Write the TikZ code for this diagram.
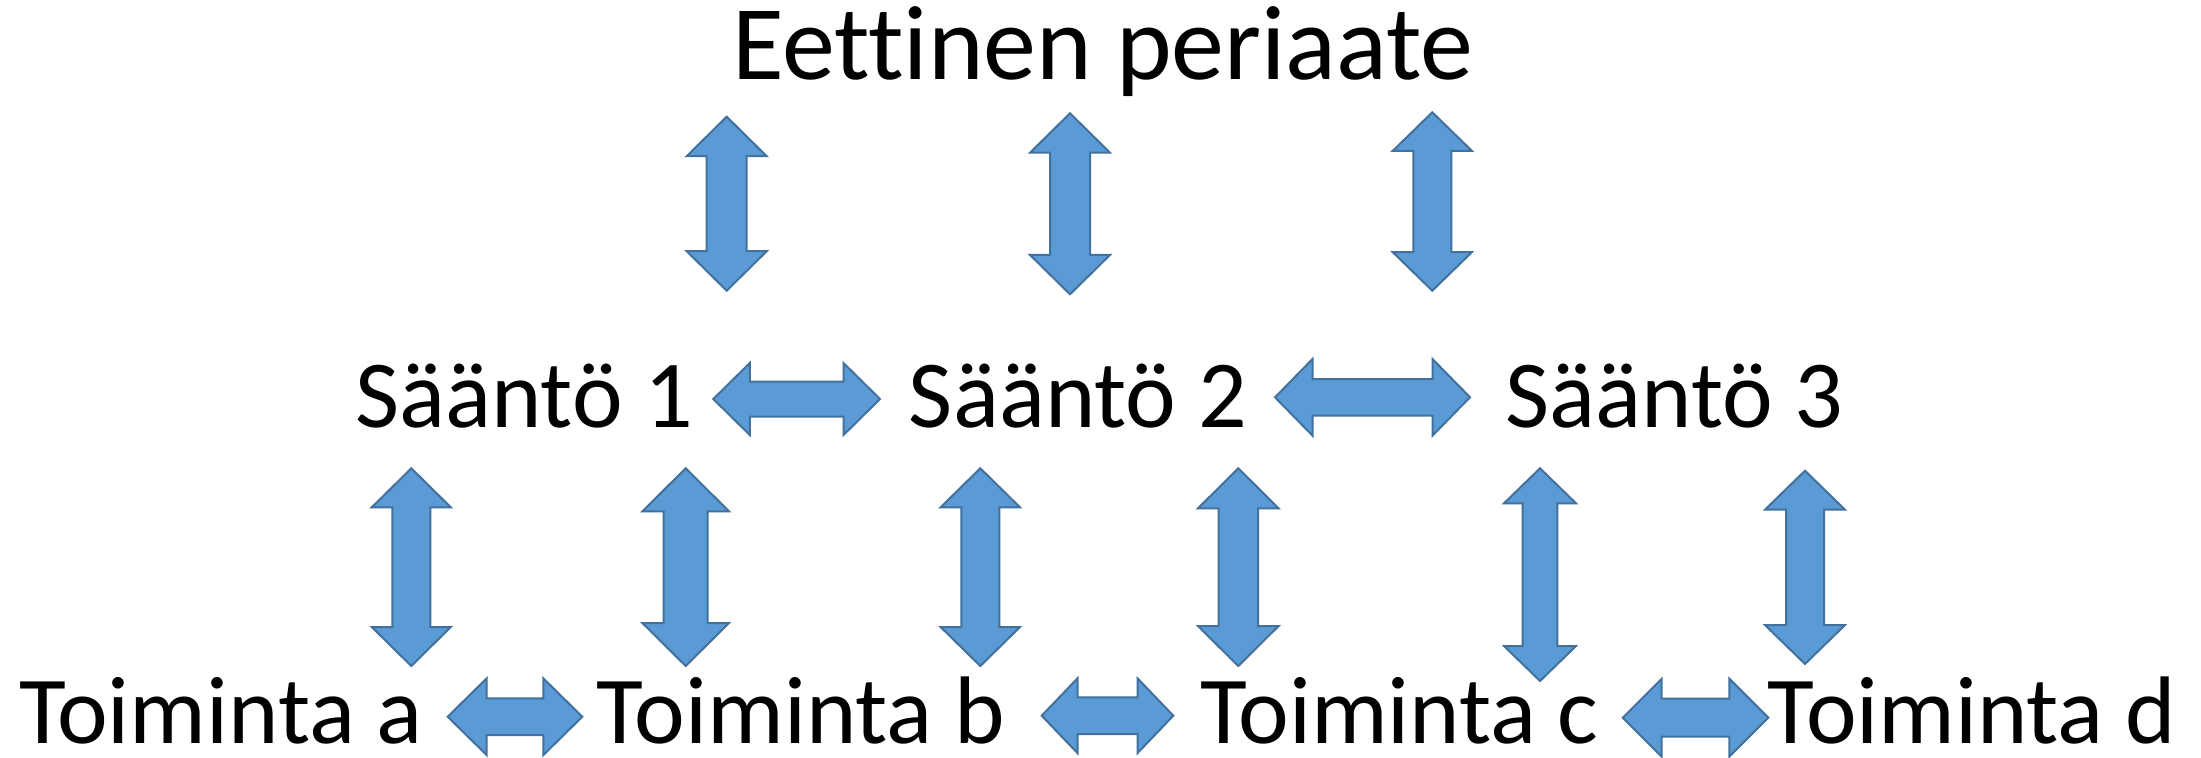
\documentclass[tikz,border=0pt]{standalone}
\usepackage{fontspec}
\setmainfont{Carlito}[Ligatures=NoCommon]
\definecolor{arrfill}{HTML}{5B9BD5}
\definecolor{arrline}{HTML}{41719C}
\tikzset{
  blockarrow/.style={fill=arrfill, draw=arrline, line width=1pt, line join=miter},
  titlelbl/.style={inner sep=0pt, anchor=base, font=\fontsize{53}{60}\selectfont},
  rowlbl/.style={inner sep=0pt, anchor=base, font=\fontsize{48}{56}\selectfont}
}
% vertical double block arrow: cx, top y, bottom y, head length, head half-width, shaft half-width
\newcommand\vdarr[6]{%
  \path[blockarrow] (#1,#2) -- ({#1+#5},{#2+#4}) -- ({#1+#6},{#2+#4}) -- ({#1+#6},{#3-#4})
    -- ({#1+#5},{#3-#4}) -- (#1,#3) -- ({#1-#5},{#3-#4}) -- ({#1-#6},{#3-#4})
    -- ({#1-#6},{#2+#4}) -- ({#1-#5},{#2+#4}) -- cycle;}
% horizontal double block arrow: cy, left x, right x, head length, head half-width, shaft half-width
\newcommand\hdarr[6]{%
  \path[blockarrow] (#2,#1) -- ({#2+#4},{#1-#5}) -- ({#2+#4},{#1-#6}) -- ({#3-#4},{#1-#6})
    -- ({#3-#4},{#1-#5}) -- (#3,#1) -- ({#3-#4},{#1+#5}) -- ({#3-#4},{#1+#6})
    -- ({#2+#4},{#1+#6}) -- ({#2+#4},{#1+#5}) -- cycle;}
\begin{document}
\begin{tikzpicture}[x=0.5pt, y=-0.5pt]
\useasboundingbox (0,0) rectangle (2201,757);
\fill[white] (0,0) rectangle (2201,757);

% texts
\node[titlelbl] (title) at (1103,79.3) {Eettinen periaate};
\node[rowlbl] (s1) at (524.3,427) {Sääntö 1};
\node[rowlbl] (s2) at (1077.9,427) {Sääntö 2};
\node[rowlbl] (s3) at (1674.8,427) {Sääntö 3};
\node[rowlbl] (ta) at (221,743.3) {Toiminta a};
\node[rowlbl] (tb) at (800.7,743.3) {Toiminta b};
\node[rowlbl] (tc) at (1399.5,743.3) {Toiminta c};
\node[rowlbl] (td) at (1972,743.3) {Toiminta d};

% top vertical arrows
\vdarr{726.7}{116.7}{290.7}{39.5}{40}{20}
\vdarr{1070}{113.3}{294.3}{39.4}{40}{20}
\vdarr{1432.3}{112.3}{290.7}{38.5}{39.5}{19}

% middle horizontal arrows
\hdarr{399}{713.3}{880}{36.5}{36}{17.5}
\hdarr{397.3}{1275}{1470}{37.5}{38.3}{18.3}

% bottom vertical arrows
\vdarr{411.3}{468.3}{666}{39}{39.5}{19}
\vdarr{685.7}{468.3}{666}{43}{43.3}{22}
\vdarr{980.3}{468.3}{666}{39}{39.7}{19}
\vdarr{1238.3}{468.3}{666}{40}{40.3}{19.7}
\vdarr{1540}{468.3}{681}{35}{36}{17.3}
\vdarr{1805}{470.7}{664}{39}{40}{19}

% bottom horizontal arrows
\hdarr{716.7}{447.7}{582.3}{39}{38.4}{18.4}
\hdarr{715.7}{1041.7}{1173.3}{35.8}{37.4}{18.4}
\hdarr{717.7}{1622.7}{1768.3}{39}{39}{19}
\end{tikzpicture}
\end{document}
